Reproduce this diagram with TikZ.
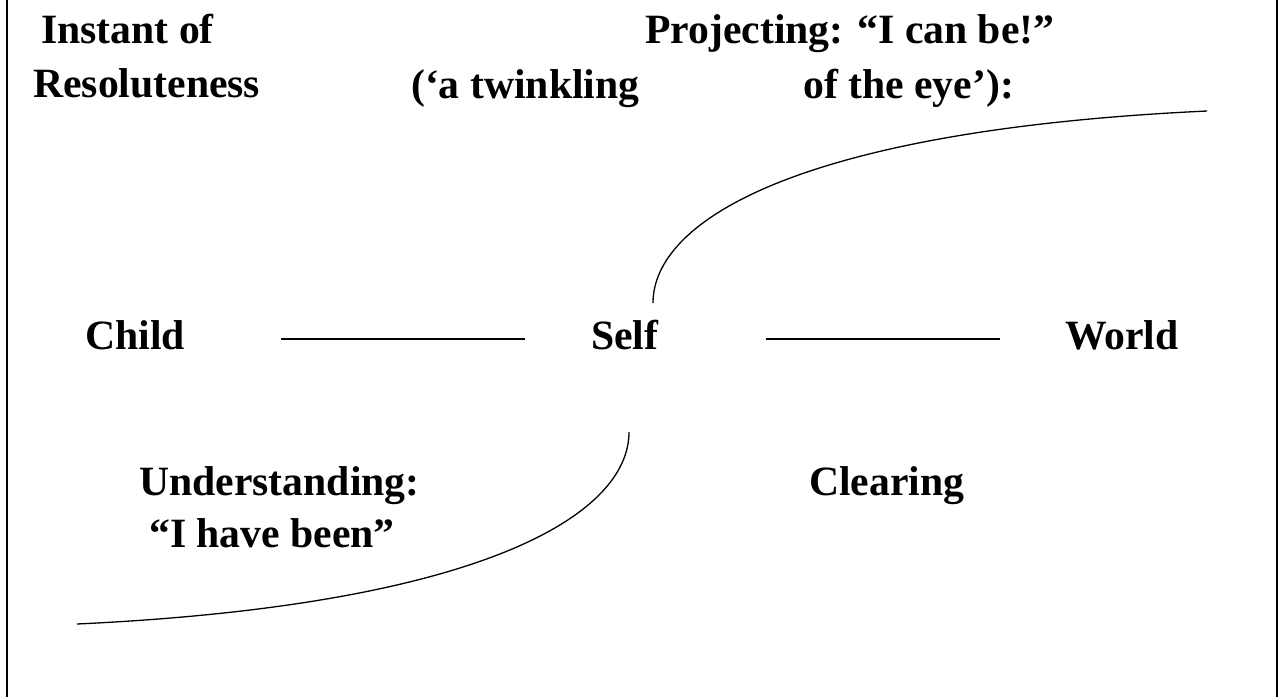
\documentclass[tikz,border=0pt]{standalone}
\usepackage{fontspec}
\setmainfont{Liberation Serif}
\begin{document}
\begin{tikzpicture}[x=1pt,y=-1pt,
  lbl/.style={anchor=base west,inner sep=0pt,font=\fontsize{41.7}{48}\selectfont\bfseries},
  link/.style={line width=2pt},
  arc/.style={line width=1.3pt},
  frame/.style={line width=2pt}]
\useasboundingbox (0,0) rectangle (1281,697);
% side rules of the frame
\draw[frame] (7,0) -- (7,697);
\draw[frame] (1277,0) -- (1277,697);

% heading texts
\node[lbl] (instant) at (41,43) {Instant of};
\node[lbl] (resolute) at (33,97) {Resoluteness};
\node[lbl] (project) at (645,43) {Projecting: “I can be!”};
\node[lbl] (twinkle) at (411,98) {(‘a twinkling};
\node[lbl] (eye) at (803,98) {of the eye’):};

% middle row
\node[lbl] (child) at (85,349) {Child};
\node[lbl] (self) at (591,349) {Self};
\node[lbl] (world) at (1065,349) {World};

\draw[link] ([shift={(96pt,10pt)}]child.base east) -- ([shift={(-66pt,10pt)}]self.base west);
\draw[link] ([shift={(107pt,10pt)}]self.base east) -- ([shift={(-65pt,10pt)}]world.base west);

% lower texts
\node[lbl] (under) at (139,495) {Understanding:};
\node[lbl] (been) at (149,547) {“I have been”};
\node[lbl] (clear) at (809,495) {Clearing};

% the two sweeping curves through Self
\coordinate (upA) at (653,303);
\coordinate (upB) at (1207,111);
\coordinate (loA) at (629,432);
\coordinate (loB) at (77,624);
\draw[arc] (upA) .. controls (653,220) and (800,130) .. (upB);
\draw[arc] (loA) .. controls (629,515) and (482,605) .. (loB);
\end{tikzpicture}
\end{document}
